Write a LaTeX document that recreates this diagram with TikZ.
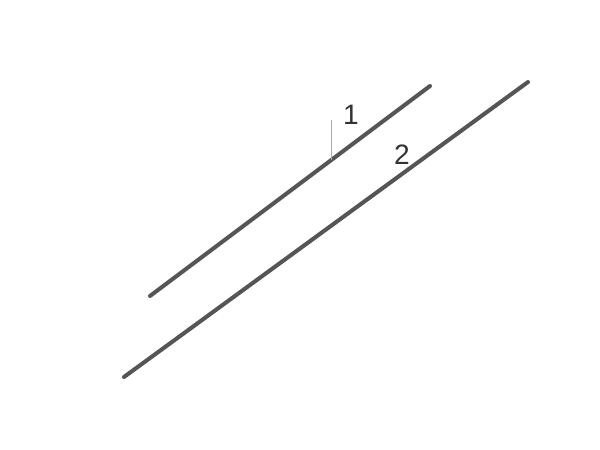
\documentclass[tikz,border=0pt]{standalone}
\usepackage{fontspec}
\setmainfont{Liberation Sans}
\definecolor{rodgray}{HTML}{555555}
\definecolor{tickgray}{HTML}{AAAAAA}
\begin{document}
\begin{tikzpicture}[rod/.style={line width=2.3pt, rodgray, line cap=round},
    lbl/.style={font=\fontsize{16}{18}\selectfont, text=black!80, inner sep=0pt}]
    \useasboundingbox (0, 0) rectangle (12, 9);

    \coordinate (aStart) at (3.0, 3.08);
    \coordinate (aEnd)   at (8.6, 7.28);
    \coordinate (bStart) at (2.48, 1.46);
    \coordinate (bEnd)   at (10.56, 7.36);
    \coordinate (tickTop) at (6.62, 6.6);
    \coordinate (tickFoot) at (6.62, 5.8);

    \node[lbl] (one) at (7.02, 6.7) {1};
    \node[lbl] (two) at (8.04, 5.9) {2};

    \draw[rod] (aStart) -- (aEnd);
    \draw[rod] (bStart) -- (bEnd);
    \draw[tickgray, line width=0.5pt] (tickTop) -- (tickFoot);
  \end{tikzpicture}
\end{document}
